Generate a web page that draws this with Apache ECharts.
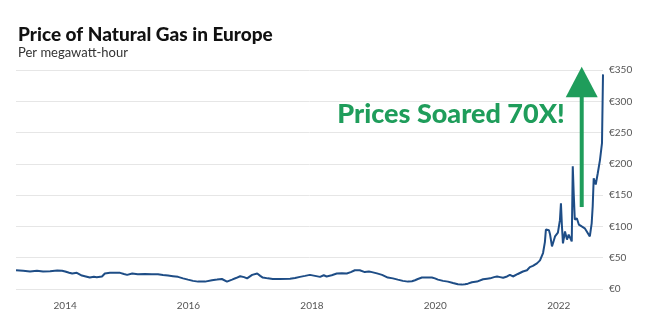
<!DOCTYPE html>
<html>
<head>
<meta charset="utf-8">
<script src="https://cdn.jsdelivr.net/npm/echarts@6/dist/echarts.min.js"></script>
<style>
  html, body { margin: 0; padding: 0; background: #fff; }
  #chart { width: 650px; height: 331px; }
</style>
</head>
<body>
<div id="chart"></div>
<script>
// Dutch TTF natural gas price, euros per megawatt-hour
const dates = [
  '2013-03-16','2013-04-27','2013-06-07','2013-07-18','2013-08-23','2013-10-04','2013-11-15','2013-12-14',
  '2014-01-01','2014-01-25','2014-02-12','2014-03-11','2014-04-10','2014-05-03','2014-05-27','2014-06-20',
  '2014-07-07','2014-08-07','2014-08-24','2014-09-23','2014-10-23','2014-11-22','2014-12-15','2015-01-03',
  '2015-02-02','2015-03-07','2015-04-18','2015-05-29','2015-07-04','2015-08-03','2015-09-02','2015-10-01',
  '2015-10-31','2015-11-30','2015-12-29','2016-01-28','2016-02-27','2016-04-08','2016-05-19','2016-06-18',
  '2016-07-17','2016-08-16','2016-09-15','2016-10-08','2016-11-02','2016-11-25','2016-12-13','2017-01-12',
  '2017-02-11','2017-03-01','2017-03-16','2017-04-15','2017-05-14','2017-06-25','2017-08-24','2017-09-23',
  '2017-10-22','2017-11-21','2017-12-20','2018-01-19','2018-02-18','2018-03-12','2018-03-29','2018-04-28',
  '2018-05-28','2018-06-27','2018-07-26','2018-08-19','2018-09-12','2018-10-11','2018-11-10','2018-12-04',
  '2018-12-22','2019-01-21','2019-02-20','2019-03-26','2019-04-25','2019-05-24','2019-06-23','2019-07-23',
  '2019-08-16','2019-09-03','2019-09-20','2019-10-14','2019-11-13','2019-12-12','2019-12-30','2020-01-17',
  '2020-02-16','2020-03-16','2020-04-15','2020-05-14','2020-06-07','2020-06-25','2020-07-12','2020-08-05',
  '2020-09-04','2020-10-10','2020-11-03','2020-11-21','2020-12-14','2021-01-01','2021-01-19','2021-02-06',
  '2021-03-01','2021-03-18','2021-04-05','2021-05-04','2021-06-03','2021-06-27','2021-07-14','2021-08-01',
  '2021-08-25','2021-09-12','2021-09-30','2021-10-11','2021-10-17','2021-10-23','2021-11-04','2021-11-10',
  '2021-11-22','2021-12-10','2021-12-27','2022-01-08','2022-01-14','2022-01-20','2022-01-26','2022-02-07',
  '2022-02-19','2022-03-01','2022-03-19','2022-03-25','2022-03-31','2022-04-06','2022-04-18','2022-04-30',
  '2022-05-17','2022-06-04','2022-06-16','2022-07-04','2022-07-15','2022-07-21','2022-07-27','2022-08-08',
  '2022-08-20','2022-09-02','2022-09-14','2022-09-20'
];
const prices = [
  30, 29, 28, 29, 28, 28.5, 29.6, 29,
  28, 26, 24.7, 25.8, 21.5, 20, 18.3, 19.5,
  18.8, 20, 24.7, 25.8, 26, 25.8, 24, 22.6,
  24.7, 23.7, 24, 23.5, 23.7, 22.5, 21.5, 20.5,
  19.4, 17, 15, 13, 11.8, 11.8, 14, 15,
  16, 11.8, 15, 17.5, 20.4, 19, 17, 22.6,
  24.7, 21, 18.3, 17, 16, 16, 16.5, 17.5,
  19.4, 21, 22.6, 21, 19.4, 22, 20, 22,
  24.7, 25, 24.7, 27, 30, 30, 27, 28,
  27, 25, 22.6, 18.3, 17, 15, 13, 11.8,
  12.5, 14, 16, 18.3, 18.5, 18.3, 17, 15,
  13, 11.8, 9.5, 7.5, 7, 7.5, 8.5, 10.8,
  11.8, 15.6, 16.5, 17, 19, 20, 19, 18,
  20, 22.6, 20, 24, 28, 30, 35, 37,
  41, 45.7, 57.5, 75, 95, 94, 94, 88,
  68, 84, 90, 110, 137, 100, 73, 92,
  79, 87, 76, 196, 150, 111, 113, 103,
  100, 97, 92, 84, 105, 132, 177, 167,
  185, 206, 233, 343
];
const yearTicks = ['2014', '2016', '2018', '2020', '2022'];

// Arrow annotation (date, low and high price of the shaft, tip)
const arrowDate = '2022-05-17';
const arrowFrom = 131;
const arrowHeadBase = 308;
const arrowTip = 355;

const fontFamily = 'Lato, "Noto Sans", sans-serif';
const green = '#1f9d5b';
const toTime = d => Date.parse(d + 'T00:00:00Z');

const chart = echarts.init(document.getElementById('chart'), null, { renderer: 'canvas' });

chart.setOption({
  animation: false,
  backgroundColor: '#ffffff',
  textStyle: { fontFamily },
  title: {
    text: 'Price of Natural Gas in Europe',
    subtext: 'Per megawatt-hour',
    left: 13,
    top: 20,
    itemGap: 2,
    textStyle: { fontSize: 19, fontWeight: 900, color: '#111', fontFamily },
    subtextStyle: { fontSize: 13, color: '#333', fontFamily }
  },
  grid: { left: 16, right: 47, top: 70, bottom: 42, containLabel: false },
  xAxis: {
    type: 'value',
    min: toTime(dates[0]),
    max: toTime(dates[dates.length - 1]),
    axisLine: { show: false },
    axisTick: { show: false },
    splitLine: { show: false },
    axisLabel: {
      customValues: yearTicks.map(y => toTime(y + '-01-01')),
      formatter: v => String(new Date(v).getUTCFullYear()),
      color: '#555',
      fontSize: 10,
      margin: 12,
      fontFamily
    }
  },
  yAxis: {
    type: 'value',
    position: 'right',
    min: 0,
    max: 350,
    interval: 50,
    axisLine: { show: false },
    axisTick: { show: false },
    splitLine: { lineStyle: { color: '#e6e6e6', width: 1 } },
    axisLabel: {
      formatter: v => '€' + v,
      color: '#555',
      fontSize: 10,
      margin: 6,
      fontFamily
    }
  },
  series: [{
    type: 'line',
    data: dates.map((d, i) => [toTime(d), prices[i]]),
    showSymbol: false,
    clip: false,
    lineStyle: { color: '#1e4d86', width: 2 },
    itemStyle: { color: '#1e4d86' }
  }]
});

// Green arrow and caption, placed in data coordinates
const pFrom = chart.convertToPixel({ gridIndex: 0 }, [toTime(arrowDate), arrowFrom]);
const pBase = chart.convertToPixel({ gridIndex: 0 }, [toTime(arrowDate), arrowHeadBase]);
const pTip = chart.convertToPixel({ gridIndex: 0 }, [toTime(arrowDate), arrowTip]);
const cx = pFrom[0];

chart.setOption({
  graphic: [
    {
      type: 'rect',
      shape: { x: cx - 2, y: pBase[1], width: 4, height: pFrom[1] - pBase[1] },
      style: { fill: green }
    },
    {
      type: 'polygon',
      shape: { points: [[cx - 16, pBase[1] + 1], [cx + 16, pBase[1] + 1], [cx, pTip[1]]] },
      style: { fill: green }
    },
    {
      type: 'text',
      right: 650 - (cx - 17),
      top: 101,
      style: {
        text: 'Prices Soared 70X!',
        fill: green,
        font: '900 27px ' + fontFamily
      }
    }
  ]
});
</script>
</body>
</html>
